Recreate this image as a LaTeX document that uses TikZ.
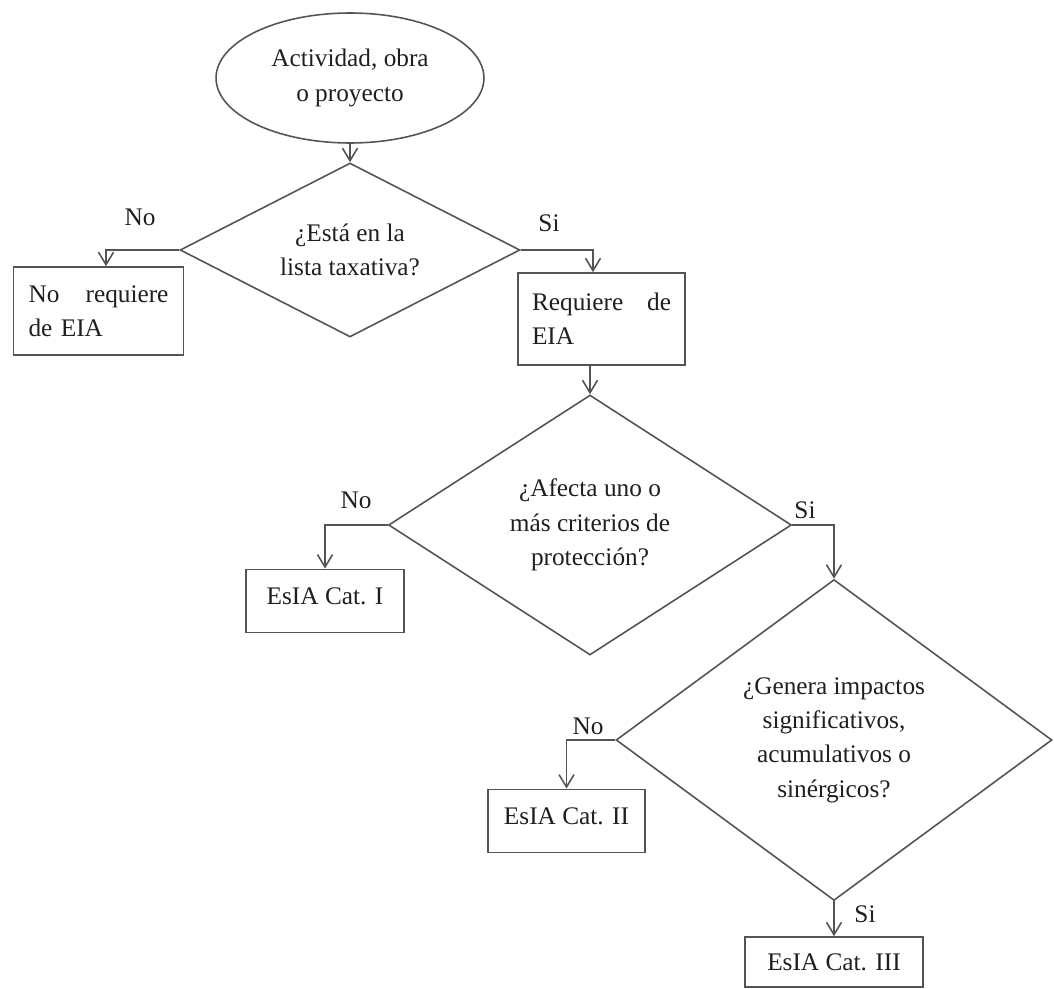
\documentclass[tikz,border=0pt]{standalone}
\usepackage{fontspec}
\setmainfont{Liberation Serif}
\usepackage{xcolor}
\usetikzlibrary{shapes.geometric, arrows.meta}

\definecolor{lineagris}{gray}{0.33}
\definecolor{textogris}{gray}{0.12}

\tikzset{
    texto/.style={font={\fontsize{14.4pt}{19.5pt}\selectfont}, text=textogris},
    caja/.style={texto, draw=lineagris, line width=0.9pt, rectangle},
    decision/.style={texto, draw=lineagris, line width=0.9pt, diamond, inner sep=0pt, align=center},
    flecha/.style={draw=lineagris, line width=0.9pt, -{Straight Barb[length=2.5mm, width=3mm]}}
}

\begin{document}
\begin{tikzpicture}[x=0.02cm, y=-0.02cm]
    \useasboundingbox (0,0) rectangle (1054,989);
    \node[texto, draw=lineagris, line width=0.9pt, ellipse, inner sep=0pt, minimum width=5.36cm, minimum height=2.6cm, align=center] (inicio) at (350,78) {Actividad, obra\\o proyecto};
    \node[decision, aspect=2, minimum width=6.8cm, minimum height=3.48cm] (lista) at (350,250) {¿Está en la\\lista taxativa?};
    \node[decision, aspect=1.55, minimum width=8.06cm, minimum height=5.2cm] (criterios) at (590,525) {¿Afecta uno o\\más criterios de\\protección?};
    \node[decision, aspect=1.4, minimum width=8.72cm, minimum height=6.42cm] (impactos) at (834,740) {¿Genera impactos\\significativos,\\acumulativos o\\sinérgicos?};
    \node[caja, text width=2.8cm, inner xsep=0.3cm, minimum height=1.76cm, align=left] (noreq) at (98.5,311) {No\hfill requiere\\de EIA};
    \node[caja, text width=2.78cm, inner xsep=0.28cm, minimum height=1.84cm, align=left] (req) at (601.5,319) {Requiere\hfill de\\EIA};
    \node[caja, minimum width=3.16cm, text height=20pt, text depth=16pt, inner ysep=0pt] (catuno) at (325,601) {EsIA Cat. I};
    \node[caja, minimum width=3.14cm, text height=20pt, text depth=16pt, inner ysep=0pt] (catdos) at (566.5,821) {EsIA Cat. II};
    \node[caja, minimum width=3.56cm, minimum height=1.0cm] (cattres) at (834,962) {EsIA Cat. III};
    \node[texto] (nouno) at (140,217) {No};
    \node[texto] (siuno) at (549,223) {Si};
    \node[texto] (nodos) at (356,500) {No};
    \node[texto] (sidos) at (805,510) {Si};
    \node[texto] (notres) at (588,726) {No};
    \node[texto] (sitres) at (865,914) {Si};
    \draw[flecha] (inicio.south) -- (lista.north);
    \draw[flecha] (lista.west) -| ([xshift=0.15cm]noreq.north);
    \draw[flecha] (lista.east) -| ([xshift=-0.17cm]req.north);
    \draw[flecha] (req.south -| criterios.north) -- (criterios.north);
    \draw[flecha] (criterios.west) -| (catuno.north);
    \draw[flecha] (criterios.east) -| (impactos.north);
    \draw[flecha] (impactos.west) -| (catdos.north);
    \draw[flecha] (impactos.south) -- (cattres.north);
\end{tikzpicture}
\end{document}
